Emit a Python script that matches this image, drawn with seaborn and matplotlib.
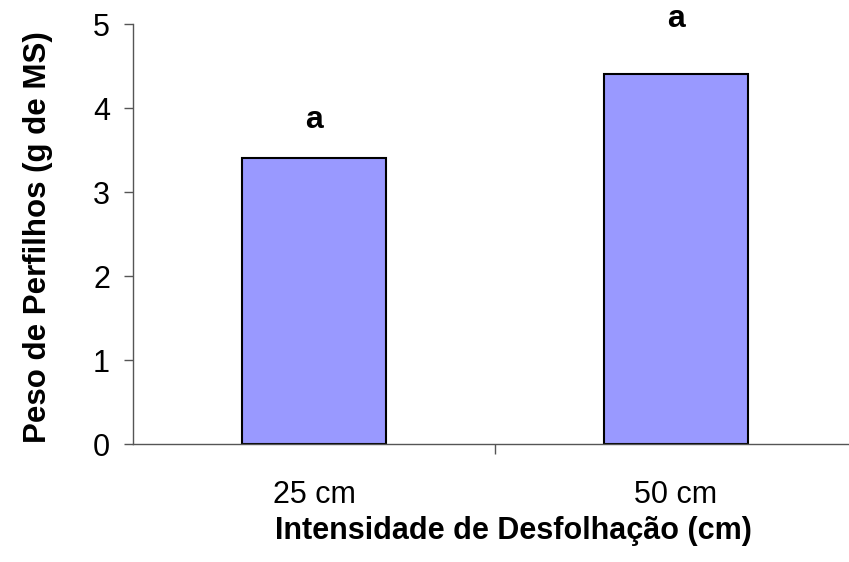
import matplotlib
matplotlib.use("Agg")
import matplotlib.pyplot as plt
import seaborn as sns
import pandas as pd
from matplotlib.ticker import FixedLocator

# dados
categorias = ["25 cm", "50 cm"]
peso = [3.4, 4.4]
letras = ["a", "a"]
yticks = [0, 1, 2, 3, 4, 5]

sns.set_theme(style="white")
plt.rcParams["font.family"] = ["Liberation Sans", "DejaVu Sans"]
plt.rcParams["text.color"] = "black"
plt.rcParams["axes.labelcolor"] = "black"
plt.rcParams["xtick.color"] = "black"
plt.rcParams["ytick.color"] = "black"

df = pd.DataFrame({"cat": categorias, "peso": peso})

fig = plt.figure(figsize=(8.49, 5.62), dpi=100)
ax = fig.add_axes([133 / 849, 1 - 444 / 562, 724 / 849, 420 / 562])

sns.barplot(data=df, x="cat", y="peso", color="#9999FF", saturation=1,
            width=0.4, edgecolor="black", linewidth=1.5, ax=ax)

# letras acima das barras (deslocamento em pontos)
offsets = [28, 40]
for i, (v, l) in enumerate(zip(peso, letras)):
    ax.annotate(l, (i, v), xytext=(0, offsets[i]), textcoords="offset points",
                ha="center", va="center", fontsize=23, fontweight="bold")

ax.set_ylim(0, 5)
ax.set_xlim(-0.5, 1.5)
ax.set_yticks(yticks)
ax.tick_params(axis="y", labelsize=22, length=6.5, width=1, color="#555555",
               direction="out", pad=10, left=True)
ax.tick_params(axis="x", which="major", labelsize=22, length=0, pad=26)
ax.xaxis.set_minor_locator(FixedLocator([0.5]))
ax.tick_params(axis="x", which="minor", length=7, width=1, color="#555555",
               direction="out", bottom=True)

for s in ["top", "right"]:
    ax.spines[s].set_visible(False)
for s in ["left", "bottom"]:
    ax.spines[s].set_color("#555555")
    ax.spines[s].set_linewidth(1)

ax.set_xlabel("Intensidade de Desfolhação (cm)", fontsize=22, fontweight="bold")
ax.set_ylabel("Peso de Perfilhos (g de MS)", fontsize=22.5, fontweight="bold")
ax.xaxis.set_label_coords(0.5256, -0.171)
ax.yaxis.set_label_coords(-0.11, 0.492)

fig.savefig("out.png", dpi=100)
